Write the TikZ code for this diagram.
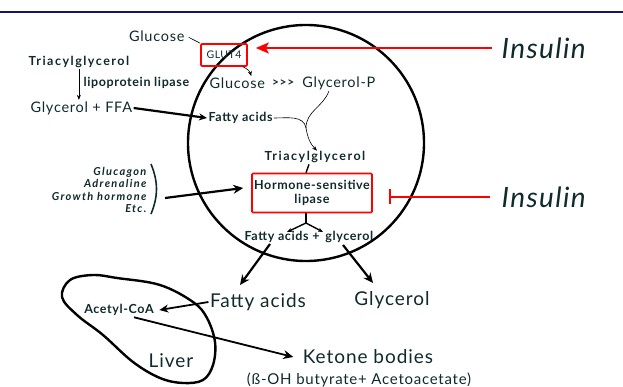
\documentclass[tikz,border=0pt]{standalone}
\usepackage{fontspec}
\setmainfont{Lato}[LetterSpace=5]
\usetikzlibrary{arrows.meta,positioning}
\definecolor{ink}{RGB}{16,42,44}
\definecolor{rule}{RGB}{20,20,105}

\begin{document}
\begin{tikzpicture}[x=1pt,y=-1pt,line width=1.2pt,
  lbl/.style={text=ink,inner sep=1pt},
  small/.style={lbl,font=\fontsize{12.5}{12.5}\selectfont\bfseries},
  wide/.style={small,font=\fontsize{12.5}{12.5}\selectfont\bfseries\addfontfeatures{LetterSpace=12}},
  mid/.style={lbl,font=\fontsize{14.5}{15}\selectfont},
  big/.style={lbl,font=\fontsize{19}{20}\selectfont},
  ins/.style={lbl,font=\fontsize{28}{30}\selectfont\itshape},
  redbox/.style={draw=red,line width=1.6pt,rounded corners=1pt},
  thinarr/.style={-{Stealth[length=5pt,width=4pt]},line width=0.6pt},
  heavy/.style={-{Stealth[length=10pt,width=9pt]},line width=2.2pt}]

  \useasboundingbox (0,0) rectangle (623,387);
  \draw[rule,line width=2pt] (0,12) -- (623,12);
  \draw[line width=2.4pt] (306,143) circle[radius=118];

  \node[mid,anchor=east] (gluout) at (186,36) {Glucose};
  \node[redbox,lbl,font=\fontsize{10.5}{11}\selectfont,minimum width=46,minimum height=22] (glut) at (224,55) {GLUT4};
  \draw[line width=0.6pt,shorten <=3pt] (gluout.east) -- (glut.north west);
  \node[mid,anchor=west] (gluin) at (208,83) {Glucose};
  \node[mid,font=\fontsize{12}{13}\selectfont\bfseries,right=4pt of gluin] (chev) {>{}>{}>};
  \node[mid,right=5pt of chev] (gp) {Glycerol-P};
  \draw[thinarr] ([xshift=-5]glut.south east) to[bend left=25] ([xshift=14]gluin.north);

  \node[wide,anchor=west] (tagout) at (27,62) {Triacylglycerol};
  \node[small,anchor=west] (lpl) at (82,83) {lipoprotein lipase};
  \node[mid,anchor=west] (gffa) at (29,108) {Glycerol + FFA};
  \draw[thinarr] (tagout.south) -- (tagout.south |- gffa.north);
  \node[small,anchor=west] (fain) at (207,118) {Fatty acids};
  \draw[heavy,-{Stealth[length=8pt,width=7pt]}] (gffa.east) -- (fain.west);

  \node[wide] (tagin) at (315,157) {Triacylglycerol};
  \coordinate (merge) at (306,128);
  \draw[line width=0.6pt] ([xshift=-10]gp.south) to[out=-110,in=90] (merge);
  \draw[line width=0.6pt] (fain.east) to[out=0,in=100] (merge);
  \draw[thinarr] (merge) to[out=-80,in=135] ([xshift=2,yshift=-1]tagin.north);

  \node[redbox,small,align=center,minimum width=120,minimum height=39] (hsl) at (312,193) {Hormone-sensitive\\[1pt]lipase};
  \draw[line width=1.4pt] ([xshift=-6]tagin.south) -- ([xshift=-6]hsl.north);
  \node[small,anchor=west] (faglyc) at (243,237) {Fatty acids + \,glycerol};
  \coordinate (fork) at (306,223);
  \draw[line width=1.4pt] ([xshift=-6]hsl.south) -- (fork);
  \draw[thinarr,line width=1.4pt] (fork) -- (287,232);
  \draw[thinarr,line width=1.4pt] (fork) -- (323,232);

  \node[big] (fabig) at (258,302) {Fatty acids};
  \node[big] (glbig) at (392,300) {Glycerol};
  \coordinate (fa0) at (270,244);
  \coordinate (fa1) at (240,285);
  \coordinate (gl0) at (343,245);
  \coordinate (gl1) at (373,283);
  \draw[heavy] (fa0) -- (fa1);
  \draw[heavy] (gl0) -- (gl1);

  \draw[line width=2.4pt] plot[smooth cycle,tension=0.6] coordinates {(62,297) (70,280) (93,275) (117,278) (160,285) (193,302) (207,318) (215,342) (213,365) (203,380) (183,383) (160,378) (133,362) (103,335) (77,315)};
  \node[small] (acoa) at (119,310) {Acetyl-CoA};
  \node[big] (liver) at (171,361) {Liver};
  \draw[heavy,-{Stealth[length=9pt,width=8pt]},line width=1.8pt] (fabig.west) -- ([xshift=4]acoa.east);
  \node[big] (ket) at (368,357) {Ketone bodies};
  \node[mid,font=\fontsize{15}{16}\selectfont] (ketsub) at (359,380) {(ß-OH butyrate+ Acetoacetate)};
  \draw[heavy,line width=1.8pt] ([xshift=15]acoa.south) -- ([xshift=-8]ket.west);

  \node[lbl,align=right,anchor=east,font=\fontsize{11}{12.3}\selectfont\bfseries\itshape\addfontfeatures{LetterSpace=12}] (horm) at (148,190) {Glucagon\\Adrenaline\\Growth hormone\\Etc.};
  \draw[ink,line width=1.6pt] (151,164) to[bend left=22] (151,214);
  \draw[heavy] (165,198) -- ([yshift=5,xshift=-8]hsl.west);

  \node[ins,anchor=west] (ins1) at (500,48) {Insulin};
  \node[ins,anchor=west] (ins2) at (500,197) {Insulin};
  \draw[red,line width=2.2pt,-{Stealth[length=13pt,width=11pt,inset=3pt]},shorten <=8pt,shorten >=8pt] (ins1.west) -- (glut.east |- ins1.west);
  \draw[red,line width=2.2pt,-{Bar[width=15pt,line width=2.2pt]},shorten <=10pt,shorten >=16pt] (ins2.west) -- (hsl.east |- ins2.west);
\end{tikzpicture}
\end{document}
